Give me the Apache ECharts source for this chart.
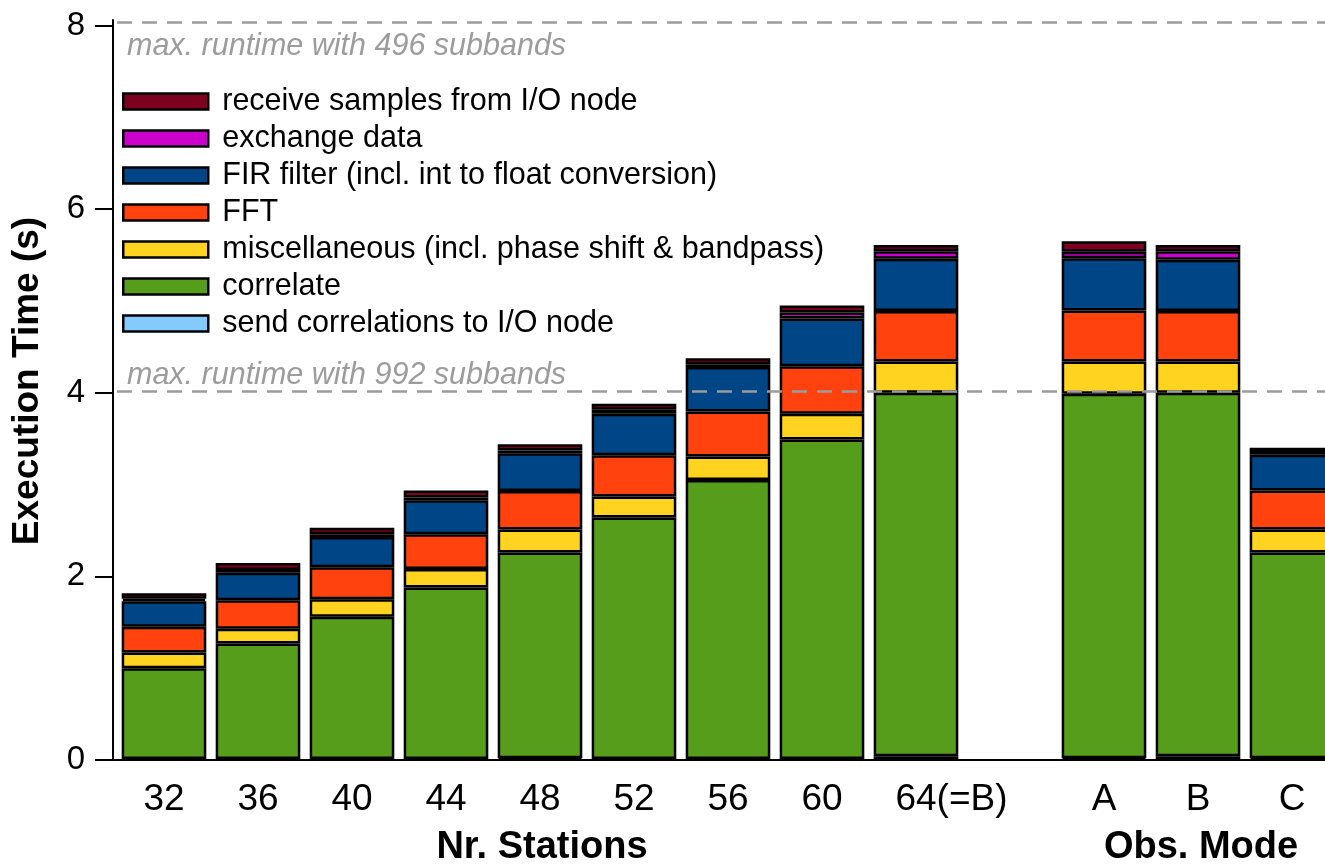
<!DOCTYPE html>
<html>
<head>
<meta charset="utf-8">
<script src="https://cdn.jsdelivr.net/npm/echarts@6/dist/echarts.min.js"></script>
<style>
  html, body { margin: 0; padding: 0; background: #fff; }
  #chart { width: 1325px; height: 865px; }
</style>
</head>
<body>
<div id="chart"></div>
<script>
// Station counts and observation modes; the empty entry separates the two groups.
const categories = ['32', '36', '40', '44', '48', '52', '56', '60', '64(=B)', '', 'A', 'B', 'C'];

// Execution time per processing step (seconds), bottom of the stack first.
const sendCorrelations = [0.01, 0.01, 0.01, 0.01, 0.02, 0.01, 0.01, 0.01, 0.04, null, 0.02, 0.04, 0.02];
const correlate        = [0.99, 1.26, 1.55, 1.87, 2.24, 2.63, 3.04, 3.48, 3.96, null, 3.97, 3.96, 2.24];
const miscellaneous    = [0.17, 0.16, 0.19, 0.20, 0.25, 0.23, 0.255, 0.28, 0.34, null, 0.35, 0.34, 0.25];
const fft              = [0.28, 0.31, 0.35, 0.38, 0.42, 0.45, 0.49, 0.52, 0.55, null, 0.555, 0.55, 0.425];
const firFilter        = [0.28, 0.30, 0.33, 0.37, 0.41, 0.45, 0.485, 0.52, 0.57, null, 0.57, 0.56, 0.39];
const exchangeData     = [0.025, 0.03, 0.03, 0.03, 0.03, 0.045, 0.03, 0.065, 0.08, null, 0.07, 0.09, 0.03];
const receiveSamples   = [0.06, 0.075, 0.07, 0.075, 0.07, 0.065, 0.065, 0.075, 0.07, null, 0.115, 0.07, 0.045];

// Runtime limits for the two subband configurations.
const limitValues = [8.04, 4.02];
const limitLabels = ['max. runtime with 496 subbands', 'max. runtime with 992 subbands'];

const yTickValues = [0, 2, 4, 6, 8];
const yMinorTickValues = [1, 3, 5, 7];
const yMax = 8.06;

const FONT = "'Liberation Sans', Arial, Helvetica, sans-serif";

const stackSeries = [
  { name: 'send correlations to I/O node', data: sendCorrelations, color: '#83caff' },
  { name: 'correlate', data: correlate, color: '#579d1c' },
  { name: 'miscellaneous (incl. phase shift & bandpass)', data: miscellaneous, color: '#ffd320' },
  { name: 'FFT', data: fft, color: '#ff420e' },
  { name: 'FIR filter (incl. int to float conversion)', data: firFilter, color: '#004586' },
  { name: 'exchange data', data: exchangeData, color: '#cc00cc' },
  { name: 'receive samples from I/O node', data: receiveSamples, color: '#7e0021' }
];

const chart = echarts.init(document.getElementById('chart'), null, { renderer: 'canvas' });

const series = stackSeries.map(s => ({
  name: s.name,
  type: 'bar',
  stack: 'time',
  xAxisIndex: 0,
  yAxisIndex: 0,
  barWidth: '90%',
  z: 3,
  data: s.data,
  itemStyle: { color: s.color, borderColor: '#000', borderWidth: 2.5 }
}));

// Dashed limit lines drawn behind the bars.
series.push({
  type: 'line',
  xAxisIndex: 0,
  yAxisIndex: 0,
  data: [],
  z: 1,
  silent: true,
  markLine: {
    symbol: ['none', 'none'],
    silent: true,
    animation: false,
    lineStyle: { color: '#9c9c9c', width: 2.5, type: [15, 10] },
    data: limitValues.map((v, i) => ({
      yAxis: v,
      label: {
        show: true,
        formatter: limitLabels[i],
        position: i === 0 ? 'insideStartBottom' : 'insideStartTop',
        distance: i === 0 ? [10, 10] : [10, 0],
        color: '#9c9c9c',
        fontStyle: 'italic',
        fontSize: 30.5,
        fontFamily: FONT
      }
    }))
  }
});

const gridTop = 20, gridBottom = 105;
const plotLeft = 117, bandWidth = 94;

const option = {
  animation: false,
  backgroundColor: '#fff',
  grid: [
    {
      left: plotLeft, width: bandWidth * categories.length, top: gridTop, bottom: gridBottom,
      containLabel: false, outerBoundsMode: 'none'
    },
    {
      left: 113, width: bandWidth * categories.length + 4, top: gridTop, bottom: gridBottom,
      containLabel: false, outerBoundsMode: 'none'
    }
  ],
  legend: {
    data: stackSeries.map(s => s.name).reverse(),
    orient: 'vertical',
    left: 122,
    top: 83,
    padding: 0,
    itemGap: 0,
    itemWidth: 85,
    itemHeight: 16,
    icon: 'rect',
    itemStyle: { borderColor: '#000', borderWidth: 2.5 },
    textStyle: {
      fontSize: 30.5,
      fontFamily: FONT,
      color: '#000',
      lineHeight: 37,
      padding: [0, 0, 0, 9]
    }
  },
  xAxis: [
    {
      type: 'category',
      gridIndex: 0,
      data: categories,
      axisLine: { show: false },
      axisTick: { show: false },
      axisLabel: {
        fontSize: 37,
        fontFamily: FONT,
        color: '#000',
        margin: 21,
        interval: 0,
        // the station count stays centred under its bar, the "(=B)" note trails to the right
        formatter: v => (v.indexOf('(') > 0 ? '{note|' + v + '}' : v),
        rich: {
          note: { fontSize: 37, fontFamily: FONT, color: '#000', padding: [0, 0, 0, 71] }
        }
      },
      splitLine: { show: false }
    },
    {
      type: 'value',
      gridIndex: 1,
      min: 0,
      max: 1,
      axisLine: { show: true, lineStyle: { color: '#000', width: 2 } },
      axisTick: { show: false },
      axisLabel: { show: false },
      splitLine: { show: false }
    }
  ],
  yAxis: [
    {
      type: 'value',
      gridIndex: 0,
      min: 0,
      max: yMax,
      show: false,
      splitLine: { show: false }
    },
    {
      type: 'value',
      gridIndex: 1,
      min: 0,
      max: yMax,
      axisLine: { show: true, lineStyle: { color: '#000', width: 2 } },
      axisTick: {
        show: true,
        inside: false,
        length: 18,
        lineStyle: { color: '#000', width: 2 },
        customValues: yTickValues
      },
      axisLabel: {
        fontSize: 33,
        fontFamily: FONT,
        color: '#000',
        margin: 28,
        customValues: yTickValues
      },
      splitLine: { show: false }
    },
    {
      type: 'value',
      gridIndex: 1,
      min: 0,
      max: yMax,
      axisLine: { show: false },
      axisTick: {
        show: true,
        inside: false,
        length: 8,
        lineStyle: { color: '#000', width: 2 },
        customValues: yMinorTickValues
      },
      axisLabel: { show: false },
      splitLine: { show: false }
    }
  ],
  graphic: [
    {
      type: 'text',
      x: 28, y: 381,
      rotation: Math.PI / 2,
      style: {
        text: 'Execution Time (s)',
        font: 'bold 37px ' + FONT,
        fill: '#000',
        align: 'center',
        verticalAlign: 'middle'
      }
    },
    {
      type: 'text',
      x: 542, y: 848,
      style: {
        text: 'Nr. Stations',
        font: 'bold 38px ' + FONT,
        fill: '#000',
        align: 'center',
        verticalAlign: 'middle'
      }
    },
    {
      type: 'text',
      x: 1201, y: 848,
      style: {
        text: 'Obs. Mode',
        font: 'bold 38px ' + FONT,
        fill: '#000',
        align: 'center',
        verticalAlign: 'middle'
      }
    }
  ],
  series: series
};

chart.setOption(option);
</script>
</body>
</html>
